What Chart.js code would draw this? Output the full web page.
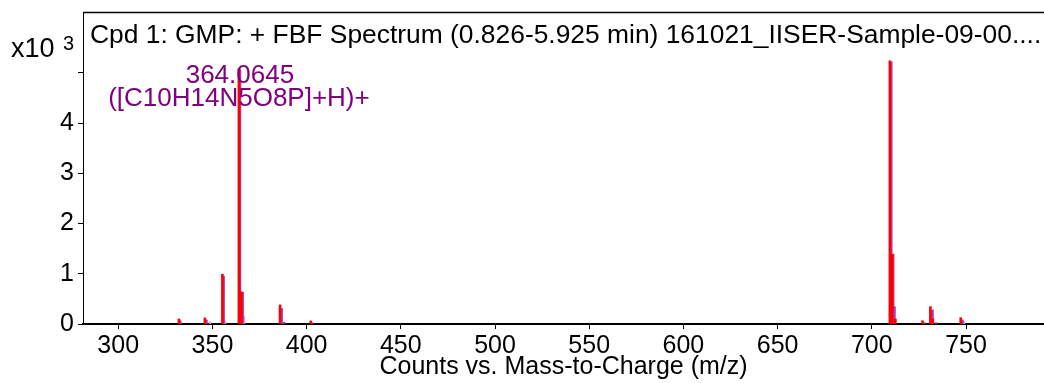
<!DOCTYPE html>
<html>
<head>
<meta charset="utf-8">
<script src="https://cdn.jsdelivr.net/npm/chart.js@4"></script>
<style>
  html, body { margin: 0; padding: 0; background: #fff; }
  #wrap { width: 1044px; height: 383px; }
</style>
</head>
<body>
<div id="wrap"><canvas id="spectrum"></canvas></div>
<script>
// axis ticks
const xTicks = [300, 350, 400, 450, 500, 550, 600, 650, 700, 750];
const yTicks = [0, 1000, 2000, 3000, 4000, 5000];
const yTickLabels = ['0', '1', '2', '3', '4', ''];

// measured spectrum (red)
const measuredMz = [332.2, 346.0, 355.3, 364.0645, 365.4, 385.9, 402.2, 709.6, 710.8, 712.5, 726.9, 731.1, 732.4, 747.2];
const measuredCounts = [100, 120, 990, 5080, 640, 380, 60, 5240, 1390, 100, 65, 345, 100, 125];

// predicted isotope bars (purple)
const isotopeMz = [332.9, 346.8, 355.9, 364.6, 366.0, 386.7, 388.0, 402.9, 710.3, 711.3, 712.0, 727.9, 732.2, 734.0, 748.1];
const isotopeCounts = [65, 80, 950, 5060, 630, 310, 35, 25, 5220, 1390, 345, 25, 280, 25, 80];

// minor isotope bars (light)
const minorMz = [348.7, 356.7, 366.7, 749.0];
const minorCounts = [45, 60, 150, 45];

const peakMz = 364.0645;
const peakLabel = ['364.0645', '([C10H14N5O8P]+H)+'];
const titleText = 'Cpd 1: GMP: + FBF Spectrum (0.826-5.925 min) 161021_IISER-Sample-09-00....';

const FONT = "'Liberation Sans', Arial, sans-serif";

function points(mz, counts) {
    return mz.map((x, i) => ({ x: x, y: counts[i] }));
}

// frame top line, spectrum title, multiplier and peak annotation
const spectrumText = {
    id: 'spectrumText',
    afterDraw(chart) {
        const ctx = chart.ctx;
        const area = chart.chartArea;
        ctx.save();
        ctx.strokeStyle = '#000';
        ctx.lineWidth = 1.5;
        ctx.beginPath();
        ctx.moveTo(area.left, area.top + 0.5);
        ctx.lineTo(area.right, area.top + 0.5);
        ctx.stroke();

        ctx.fillStyle = '#000';
        ctx.textBaseline = 'alphabetic';
        ctx.textAlign = 'left';
        ctx.font = '26.4px ' + FONT;
        ctx.fillText(titleText, area.left + 7, area.top + 31);

        ctx.font = '27px ' + FONT;
        ctx.fillText('x10', 11, 57);
        ctx.font = '20px ' + FONT;
        ctx.fillText('3', 63, 50);

        const px = chart.scales.x.getPixelForValue(peakMz);
        ctx.fillStyle = '#800080';
        ctx.textAlign = 'center';
        ctx.font = '26px ' + FONT;
        ctx.fillText(peakLabel[0], px + 1, area.top + 71);
        ctx.fillText(peakLabel[1], px, area.top + 94);
        ctx.restore();
    }
};

const ctx = document.getElementById('spectrum').getContext('2d');
const spectrumChart = new Chart(ctx, {
    type: 'bar',
    data: {
        datasets: [{
            label: 'Measured',
            data: points(measuredMz, measuredCounts),
            backgroundColor: '#ff0000',
            order: 0
        }, {
            label: 'Isotope',
            data: points(isotopeMz, isotopeCounts),
            backgroundColor: '#a03cb4',
            order: 1
        }, {
            label: 'Minor',
            data: points(minorMz, minorCounts),
            backgroundColor: '#e0a0e8',
            order: 2
        }]
    },
    options: {
        responsive: true,
        maintainAspectRatio: false,
        animation: false,
        grouped: false,
        barThickness: 2,
        layout: { padding: { top: 12, right: 0, left: 0, bottom: 0 } },
        plugins: {
            legend: { display: false },
            tooltip: { enabled: false }
        },
        scales: {
            x: {
                type: 'linear',
                min: 281.3,
                max: 791.4,
                offset: false,
                afterFit(scale) {
                    scale.height = 59;
                    scale.paddingLeft = 0;
                    scale.paddingRight = 0;
                },
                afterBuildTicks(scale) { scale.ticks = xTicks.map(v => ({ value: v })); },
                grid: {
                    drawOnChartArea: false,
                    offset: false,
                    tickLength: 5,
                    tickColor: '#000'
                },
                border: { color: '#000', width: 2 },
                ticks: {
                    color: '#000',
                    font: { family: FONT, size: 25 },
                    padding: 2,
                    maxRotation: 0,
                    autoSkip: false
                },
                title: {
                    display: true,
                    text: 'Counts vs. Mass-to-Charge (m/z)',
                    color: '#000',
                    font: { family: FONT, size: 25, lineHeight: 1 },
                    padding: { top: 0, bottom: 3 }
                }
            },
            y: {
                min: 0,
                max: 6210,
                afterFit(scale) {
                    scale.width = 83;
                    scale.paddingTop = 0;
                    scale.paddingBottom = 0;
                },
                afterBuildTicks(scale) { scale.ticks = yTicks.map(v => ({ value: v })); },
                grid: {
                    drawOnChartArea: false,
                    tickLength: 5,
                    tickColor: '#000'
                },
                border: { color: '#000', width: 1 },
                ticks: {
                    color: '#000',
                    font: { family: FONT, size: 25 },
                    padding: 4,
                    callback: (v) => yTickLabels[yTicks.indexOf(v)]
                }
            }
        }
    },
    plugins: [spectrumText]
});
</script>
</body>
</html>
